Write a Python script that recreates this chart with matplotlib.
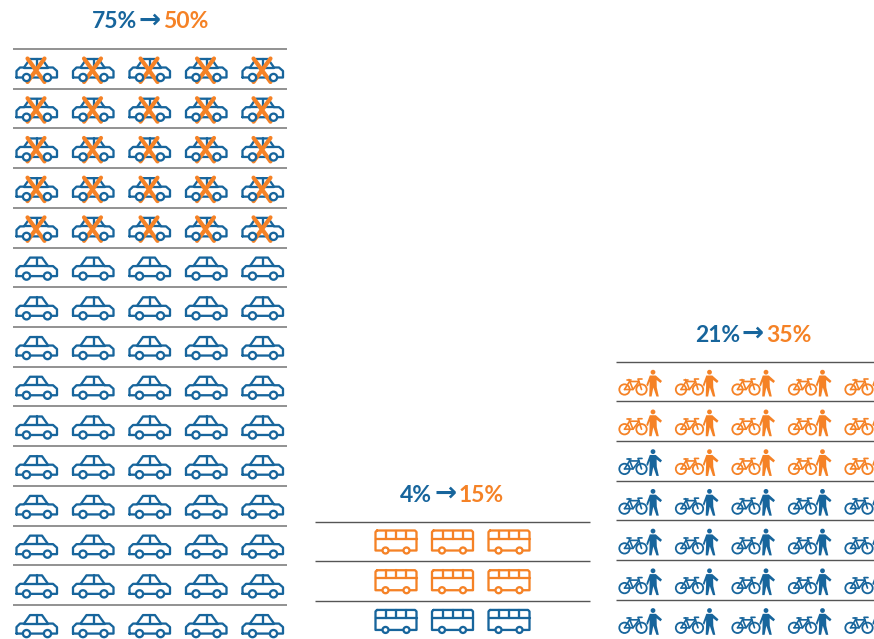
import matplotlib
matplotlib.use("Agg")
import matplotlib.pyplot as plt
from matplotlib.patches import Circle, Polygon

BLUE = "#17659C"
ORANGE = "#F58226"

# titles: before, after
car_title = ("75%", "50%")
bus_title = ("4%", "15%")
bike_title = ("21%", "35%")

# per row, how many icons are crossed out / orange
car_crossed = [5, 5, 5, 5, 5, 0, 0, 0, 0, 0, 0, 0, 0, 0, 0]
bus_orange = [3, 3, 0]
bike_orange = [5, 5, 4, 0, 0, 0, 0]

PITCH_Y = 39.72
PITCH_X = 56.5
LW = 1.65

fig = plt.figure(figsize=(8.74, 6.39), dpi=100)
ax = fig.add_axes([0, 0, 1, 1])
ax.set_xlim(0, 874)
ax.set_ylim(639, 0)
ax.axis("off")


def line(x, y, pts, color, lw=LW):
    ax.plot([x + p[0] for p in pts], [y + p[1] for p in pts], color=color, lw=lw,
            solid_capstyle="round", solid_joinstyle="round", zorder=3)


def wheel(x, y, r, color, lw=LW, fill="white"):
    ax.add_patch(Circle((x, y), r, fc=fill, ec=color, lw=lw, zorder=4))


def draw_car(x, y, crossed):
    line(x, y, [(-20.5, 28.5), (-20.5, 22), (-17, 18.5), (-13, 18.5), (-7, 10), (5, 10),
                (11, 18.5), (16, 18.5), (20, 22), (20, 28.5), (-20.5, 28.5)], BLUE)
    line(x, y, [(-13, 18.5), (11, 18.5)], BLUE)
    line(x, y, [(0, 10), (0, 18.5)], BLUE)
    wheel(x - 10.5, y + 28.5, 3.6, BLUE)
    wheel(x + 10.5, y + 28.5, 3.6, BLUE)
    if crossed:
        line(x, y, [(-9.5, 9.5), (7.5, 33)], ORANGE, 3.0)
        line(x, y, [(7.5, 9.5), (-9.5, 33)], ORANGE, 3.0)


def draw_bus(x, y, color):
    # y is the rule above the row
    line(x, y, [(-19, 9), (19, 9), (20.5, 10.5), (20.5, 29), (-20.5, 29), (-20.5, 10.5), (-19, 9)], color)
    line(x, y, [(-20.5, 17), (20.5, 17)], color)
    for dx in [-10, 0, 10]:
        line(x, y, [(dx, 9), (dx, 17)], color)
    wheel(x - 10.5, y + 29, 3, color)
    wheel(x + 10.5, y + 29, 3, color)


def draw_bike(x, y, color):
    # x is the left edge of the icon, y the rule above the row
    wheel(x + 5.5, y + 28, 5.2, color, 1.3, "none")
    wheel(x + 22.5, y + 28, 5.2, color, 1.3, "none")
    ax.add_patch(Circle((x + 34, y + 10.7), 2.4, fc=color, ec="none", zorder=5))
    line(x, y, [(5.5, 28), (10.5, 20), (20, 20), (22.5, 28)], color, 1.2)
    line(x, y, [(5.5, 28), (14, 28), (10, 18)], color, 1.2)
    line(x, y, [(14, 28), (20, 20), (19, 17.5), (23, 17.5)], color, 1.2)
    line(x, y, [(8, 18), (12, 18)], color, 1.2)
    person = [(30.8, 14), (36.8, 14), (43, 19.5), (41.5, 21.5), (37.6, 18.5), (37.8, 26), (39.8, 35),
              (37.4, 35), (34.3, 26), (32.6, 35), (30.2, 35), (30.6, 24), (30.6, 20), (28.8, 25), (27.3, 23.5)]
    ax.add_patch(Polygon([(x + p[0], y + p[1]) for p in person], fc=color, ec="none", zorder=5))


def draw_rules(x0, x1, y0, n, color, lw):
    for i in range(n):
        ax.plot([x0, x1], [y0 + i * PITCH_Y] * 2, color=color, lw=lw, solid_capstyle="butt", zorder=2)


def draw_title(cx, y, before, after):
    # three pieces side by side, centred as a group on cx
    r = fig.canvas.get_renderer()
    kw = dict(fontweight="bold", va="center", ha="left", zorder=6)
    a = ax.text(0, y, before, color=BLUE, family="Lato", fontsize=16.5, **kw)
    b = ax.text(0, y - 1, "→", color=BLUE, family=["DejaVu Sans"], fontsize=19, **kw)
    c = ax.text(0, y, after, color=ORANGE, family="Lato", fontsize=16.5, **kw)
    widths = [t.get_window_extent(r).width for t in (a, b, c)]
    gap = 2
    x = cx - (sum(widths) + 2 * gap) / 2
    for t, w in zip((a, b, c), widths):
        t.set_x(x)
        x += w + gap


draw_rules(13, 287, 49, len(car_crossed), "#7F7F7F", 1.2)
for i, crossed in enumerate(car_crossed):
    for j in range(5):
        draw_car(37 + j * PITCH_X, 49 + i * PITCH_Y, j < crossed)

draw_rules(315, 590, 521.5, len(bus_orange), "#555555", 1.0)
for i, orange in enumerate(bus_orange):
    for j in range(3):
        draw_bus(396 + j * PITCH_X, 521.5 + i * PITCH_Y, ORANGE if j < orange else BLUE)

draw_rules(616, 874, 361.5, len(bike_orange) + 1, "#555555", 1.0)
for i, orange in enumerate(bike_orange):
    for j in range(5):
        draw_bike(619 + j * PITCH_X, 361.5 + i * PITCH_Y, ORANGE if j >= 5 - orange else BLUE)

draw_title(150, 22, *car_title)
draw_title(452, 495, *bus_title)
draw_title(753, 335, *bike_title)

fig.savefig("out.png", dpi=100, facecolor="white")
